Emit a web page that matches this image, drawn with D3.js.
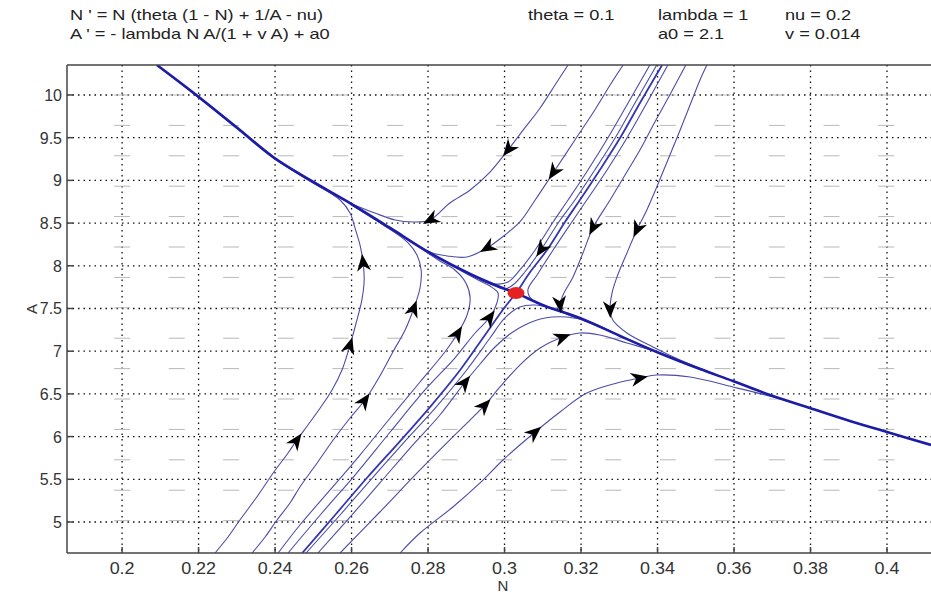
<!DOCTYPE html>
<html>
<head>
<meta charset="utf-8">
<script src="https://d3js.org/d3.v7.min.js"></script>
<style>
body { margin: 0; background: #fff; }
text { font-family: "Liberation Sans", Arial, sans-serif; }
</style>
</head>
<body>
<div id="graph"></div>
<script>
// ---- values ----
var xTicks = [0.2, 0.22, 0.24, 0.26, 0.28, 0.3, 0.32, 0.34, 0.36, 0.38, 0.4];
var xTickLabels = ["0.2", "0.22", "0.24", "0.26", "0.28", "0.3", "0.32", "0.34", "0.36", "0.38", "0.4"];
var yTicks = [5, 5.5, 6, 6.5, 7, 7.5, 8, 8.5, 9, 9.5, 10];
var yTickLabels = ["5", "5.5", "6", "6.5", "7", "7.5", "8", "8.5", "9", "9.5", "10"];

// direction field dash centres
var fieldN = [0.2000, 0.2143, 0.2285, 0.2428, 0.2571, 0.2714, 0.2856, 0.2999, 0.3142, 0.3284, 0.3427, 0.3570, 0.3712, 0.3855, 0.3998];
var fieldA = [10.000, 9.644, 9.288, 8.932, 8.576, 8.220, 7.864, 7.508, 7.152, 6.796, 6.440, 6.084, 5.728, 5.372, 5.016];

// saddle point
var saddle = [0.3030, 7.681];

// separatrices [N, A]
var unstableSep = [[0.2091,10.351],[0.2204,9.965],[0.2308,9.590],[0.2395,9.274],[0.2491,9.005],[0.2596,8.735],[0.2701,8.443],[0.2805,8.150],[0.2910,7.904],[0.2988,7.752],[0.3030,7.681],[0.3106,7.529],[0.3197,7.389],[0.3302,7.178],[0.3398,6.991],[0.3511,6.791],[0.3597,6.651],[0.3694,6.487],[0.3798,6.335],[0.3903,6.183],[0.4000,6.054],[0.4115,5.902]];
var stableSep = [[0.2471,4.637],[0.2557,5.082],[0.2640,5.515],[0.2727,5.948],[0.2805,6.346],[0.2884,6.780],[0.2949,7.190],[0.3001,7.517],[0.3030,7.681],[0.3067,7.927],[0.3111,8.185],[0.3158,8.513],[0.3197,8.770],[0.3249,9.122],[0.3302,9.496],[0.3354,9.906],[0.3412,10.351]];

// trajectories, points in direction of flow
var trajT1 = [[0.3166,10.351],[0.3132,10.117],[0.3093,9.848],[0.3053,9.614],[0.3009,9.356],[0.2962,9.098],[0.2910,8.888],[0.2857,8.735],[0.2805,8.536],[0.2761,8.513],[0.2714,8.536],[0.2661,8.618],[0.2596,8.735],[0.2491,8.993],[0.2395,9.262],[0.2308,9.578],[0.2204,9.953],[0.2094,10.340]];
var trajT2 = [[0.3310,10.351],[0.3276,10.117],[0.3236,9.824],[0.3184,9.473],[0.3127,9.087],[0.3080,8.770],[0.3040,8.513],[0.3001,8.361],[0.2954,8.208],[0.2902,8.103],[0.2850,8.115],[0.2805,8.162],[0.2701,8.431],[0.2596,8.724]];
var trajL1 = [[0.2243,4.637],[0.2277,4.824],[0.2308,5.023],[0.2356,5.316],[0.2395,5.574],[0.2434,5.808],[0.2457,5.960],[0.2486,6.136],[0.2518,6.335],[0.2549,6.546],[0.2575,6.780],[0.2596,7.073],[0.2612,7.330],[0.2627,7.600],[0.2633,7.834],[0.2630,8.044],[0.2622,8.244],[0.2609,8.443],[0.2596,8.618],[0.2570,8.770],[0.2491,8.993],[0.2395,9.262]];
var trajL2 = [[0.2340,4.637],[0.2374,4.824],[0.2405,5.023],[0.2439,5.222],[0.2465,5.410],[0.2510,5.691],[0.2552,5.960],[0.2596,6.218],[0.2635,6.428],[0.2674,6.710],[0.2708,6.991],[0.2740,7.248],[0.2763,7.506],[0.2779,7.740],[0.2782,7.951],[0.2771,8.126],[0.2748,8.267],[0.2719,8.372],[0.2687,8.466],[0.2648,8.583],[0.2596,8.724]];
var trajL3 = [[0.2408,4.637],[0.2465,4.965],[0.2544,5.375],[0.2622,5.784],[0.2701,6.218],[0.2779,6.639],[0.2844,6.991],[0.2878,7.213],[0.2902,7.424],[0.2910,7.623],[0.2899,7.799],[0.2870,7.951],[0.2831,8.056],[0.2779,8.208],[0.2701,8.431]];
var trajL4 = [[0.2434,4.637],[0.2518,5.082],[0.2609,5.550],[0.2701,6.054],[0.2792,6.546],[0.2870,6.920],[0.2923,7.213],[0.2962,7.400],[0.2980,7.564],[0.2983,7.681],[0.2962,7.763],[0.2931,7.834],[0.2897,7.916],[0.2805,8.138]];
var trajR0 = [[0.2481,4.637],[0.2570,5.082],[0.2654,5.515],[0.2740,5.948],[0.2821,6.346],[0.2899,6.768],[0.2962,7.154],[0.3001,7.389],[0.3040,7.517],[0.3080,7.541],[0.3119,7.506],[0.3197,7.377]];
var trajR1 = [[0.2512,4.637],[0.2596,5.058],[0.2674,5.457],[0.2753,5.866],[0.2831,6.253],[0.2897,6.639],[0.2936,6.850],[0.2975,7.049],[0.3014,7.201],[0.3053,7.307],[0.3106,7.389],[0.3163,7.400],[0.3223,7.342],[0.3302,7.178]];
var trajR2 = [[0.2570,4.637],[0.2674,5.117],[0.2779,5.609],[0.2870,6.019],[0.2949,6.370],[0.2988,6.581],[0.3040,6.838],[0.3093,7.037],[0.3153,7.166],[0.3197,7.213],[0.3249,7.190],[0.3320,7.096],[0.3398,6.991],[0.3511,6.791]];
var trajR3 = [[0.2727,4.637],[0.2779,4.871],[0.2865,5.176],[0.2936,5.457],[0.2996,5.726],[0.3080,6.054],[0.3145,6.288],[0.3215,6.510],[0.3294,6.628],[0.3354,6.686],[0.3398,6.721],[0.3485,6.698],[0.3597,6.581],[0.3702,6.463],[0.3798,6.335]];
var trajRT1 = [[0.3474,10.351],[0.3432,10.000],[0.3393,9.684],[0.3354,9.356],[0.3315,9.063],[0.3276,8.770],[0.3231,8.443],[0.3205,8.150],[0.3179,7.869],[0.3153,7.658],[0.3145,7.541],[0.3158,7.447],[0.3197,7.377],[0.3249,7.283]];
var trajRT2 = [[0.3529,10.351],[0.3511,10.176],[0.3485,9.883],[0.3456,9.555],[0.3427,9.239],[0.3398,8.923],[0.3372,8.653],[0.3346,8.419],[0.3320,8.150],[0.3294,7.869],[0.3281,7.681],[0.3276,7.482],[0.3283,7.365],[0.3320,7.213],[0.3388,7.049],[0.3459,6.897],[0.3537,6.756]];
var trajB1 = [[0.3380,10.351],[0.3323,9.906],[0.3270,9.496],[0.3218,9.122],[0.3166,8.770],[0.3127,8.513],[0.3080,8.185],[0.3040,7.951],[0.3009,7.810],[0.2975,7.787],[0.2936,7.845],[0.2884,7.951]];
var trajB2 = [[0.3398,10.351],[0.3341,9.906],[0.3289,9.496],[0.3236,9.122],[0.3184,8.770],[0.3142,8.513],[0.3095,8.185],[0.3053,7.927],[0.3025,7.787],[0.3001,7.728],[0.2975,7.763],[0.2936,7.834]];
var trajB3 = [[0.3427,10.351],[0.3372,9.906],[0.3320,9.496],[0.3268,9.122],[0.3215,8.770],[0.3176,8.513],[0.3127,8.185],[0.3085,7.892],[0.3061,7.717],[0.3072,7.600],[0.3106,7.529],[0.3197,7.389]];

// arrowheads: which trajectory, and where on it
var arrowMarks = [
  ["T1", [0.3009, 9.356]], ["T1", [0.2805, 8.536]],
  ["T2", [0.3127, 9.087]], ["T2", [0.2954, 8.208]],
  ["L1", [0.2457, 5.960]], ["L1", [0.2596, 7.073]], ["L1", [0.2630, 8.044]],
  ["L2", [0.2635, 6.428]], ["L2", [0.2763, 7.506]],
  ["L3", [0.2878, 7.213]],
  ["L4", [0.2962, 7.400]],
  ["R1", [0.2897, 6.639]],
  ["R2", [0.2949, 6.370]], ["R2", [0.3153, 7.166]],
  ["R3", [0.3080, 6.054]], ["R3", [0.3354, 6.686]],
  ["RT1", [0.3231, 8.443]], ["RT1", [0.3145, 7.541]],
  ["RT2", [0.3346, 8.419]], ["RT2", [0.3276, 7.482]],
  ["B2", [0.3095, 8.185]]
];

var trajectories = {
  T1: trajT1, T2: trajT2, L1: trajL1, L2: trajL2, L3: trajL3, L4: trajL4,
  R0: trajR0, R1: trajR1, R2: trajR2, R3: trajR3, RT1: trajRT1, RT2: trajRT2,
  B1: trajB1, B2: trajB2, B3: trajB3
};

// ---- drawing ----
var W = 931, H = 595;
var plot = { left: 67, right: 931, top: 65, bottom: 553 };

var svg = d3.select("#graph").append("svg")
  .attr("width", W).attr("height", H);

var x = d3.scaleLinear().domain([0.1856, 0.4115]).range([plot.left, plot.right]);
var y = d3.scaleLinear().domain([4.637, 10.351]).range([plot.bottom, plot.top]);

svg.append("clipPath").attr("id", "clip")
  .append("rect")
  .attr("x", plot.left).attr("y", plot.top)
  .attr("width", plot.right - plot.left).attr("height", plot.bottom - plot.top);

// grid
var grid = svg.append("g");
grid.selectAll("line.gx").data(xTicks).enter().append("line")
  .attr("x1", function(d) { return x(d); }).attr("x2", function(d) { return x(d); })
  .attr("y1", plot.top).attr("y2", plot.bottom)
  .attr("stroke", "#111").attr("stroke-width", 1.3).attr("stroke-dasharray", "1.5,4");
grid.selectAll("line.gy").data(yTicks).enter().append("line")
  .attr("y1", function(d) { return y(d); }).attr("y2", function(d) { return y(d); })
  .attr("x1", plot.left).attr("x2", plot.right)
  .attr("stroke", "#111").attr("stroke-width", 1.3).attr("stroke-dasharray", "1.5,4");

// direction field
var field = [];
fieldN.forEach(function(n) { fieldA.forEach(function(a) { field.push([n, a]); }); });
svg.append("g").selectAll("line").data(field).enter().append("line")
  .attr("x1", function(d) { return x(d[0]) - 8; })
  .attr("x2", function(d) { return x(d[0]) + 8; })
  .attr("y1", function(d) { return y(d[1]); })
  .attr("y2", function(d) { return y(d[1]); })
  .attr("stroke", "#b8b8b8").attr("stroke-width", 1);

var line = d3.line()
  .x(function(d) { return x(d[0]); })
  .y(function(d) { return y(d[1]); })
  .curve(d3.curveCatmullRom.alpha(0.5));

var curves = svg.append("g").attr("clip-path", "url(#clip)");

Object.keys(trajectories).forEach(function(k) {
  curves.append("path")
    .datum(trajectories[k])
    .attr("fill", "none")
    .attr("stroke", "#4d4da8")
    .attr("stroke-width", 1.1)
    .attr("d", line);
});

curves.append("path").datum(stableSep)
  .attr("fill", "none").attr("stroke", "#3636b2").attr("stroke-width", 1.8)
  .attr("d", line);
curves.append("path").datum(unstableSep)
  .attr("fill", "none").attr("stroke", "#1c1ca6").attr("stroke-width", 2.6)
  .attr("d", line);

// arrowheads, oriented along the trajectory
arrowMarks.forEach(function(m) {
  var pts = trajectories[m[0]];
  var px = x(m[1][0]), py = y(m[1][1]);
  var best = 0, bestD = Infinity;
  pts.forEach(function(p, i) {
    var d = Math.hypot(x(p[0]) - px, y(p[1]) - py);
    if (d < bestD) { bestD = d; best = i; }
  });
  var a = pts[Math.max(best - 1, 0)], b = pts[Math.min(best + 1, pts.length - 1)];
  var ang = Math.atan2(y(b[1]) - y(a[1]), x(b[0]) - x(a[0])) * 180 / Math.PI;
  curves.append("path")
    .attr("d", "M8,0 L-9,-7 L-4,0 L-9,7 Z")
    .attr("fill", "#000")
    .attr("transform", "translate(" + px + "," + py + ") rotate(" + ang + ")");
});

// saddle point
svg.append("ellipse")
  .attr("cx", x(saddle[0])).attr("cy", y(saddle[1]))
  .attr("rx", 8.5).attr("ry", 6)
  .attr("fill", "#e42222");

// frame and ticks
var frame = svg.append("g").attr("stroke", "#444").attr("stroke-width", 1.5);
frame.append("line").attr("x1", plot.left).attr("x2", plot.right).attr("y1", plot.top).attr("y2", plot.top);
frame.append("line").attr("x1", plot.left).attr("x2", plot.right).attr("y1", plot.bottom).attr("y2", plot.bottom);
frame.append("line").attr("x1", plot.left).attr("x2", plot.left).attr("y1", plot.top).attr("y2", plot.bottom);
frame.selectAll("line.tx").data(xTicks).enter().append("line")
  .attr("x1", function(d) { return x(d); }).attr("x2", function(d) { return x(d); })
  .attr("y1", plot.bottom).attr("y2", plot.bottom - 6);
frame.selectAll("line.ty").data(yTicks).enter().append("line")
  .attr("y1", function(d) { return y(d); }).attr("y2", function(d) { return y(d); })
  .attr("x1", plot.left).attr("x2", plot.left + 6);

// tick labels (the source text is a little wider than it is tall)
svg.append("g").selectAll("text").data(xTicks).enter().append("text")
  .attr("transform", function(d) { return "translate(" + x(d) + ",574) scale(1.12,1)"; })
  .attr("text-anchor", "middle").attr("font-size", 16).attr("fill", "#333")
  .text(function(d, i) { return xTickLabels[i]; });
svg.append("g").selectAll("text").data(yTicks).enter().append("text")
  .attr("transform", function(d) { return "translate(62," + (y(d) + 6) + ")"; })
  .attr("text-anchor", "end").attr("font-size", 16).attr("fill", "#333")
  .text(function(d, i) { return yTickLabels[i]; });

svg.append("text").attr("x", 503).attr("y", 591)
  .attr("text-anchor", "middle").attr("font-size", 15).attr("fill", "#333").text("N");
svg.append("text").attr("transform", "translate(37,309) rotate(-90)")
  .attr("text-anchor", "middle").attr("font-size", 15).attr("fill", "#333").text("A");

// header
var header = svg.append("g").attr("font-size", 14).attr("fill", "#222");
var headerText = function(px, py, s) {
  header.append("text")
    .attr("transform", "translate(" + px + "," + py + ") scale(1.3,1)")
    .text(s);
};
headerText(70, 20, "N ' = N (theta (1 - N) + 1/A - nu)");
headerText(70, 39, "A ' = - lambda N A/(1 + v A) + a0");
headerText(528, 20, "theta = 0.1");
headerText(658, 20, "lambda = 1");
headerText(785, 20, "nu = 0.2");
headerText(658, 39, "a0 = 2.1");
headerText(785, 39, "v = 0.014");
</script>
</body>
</html>
